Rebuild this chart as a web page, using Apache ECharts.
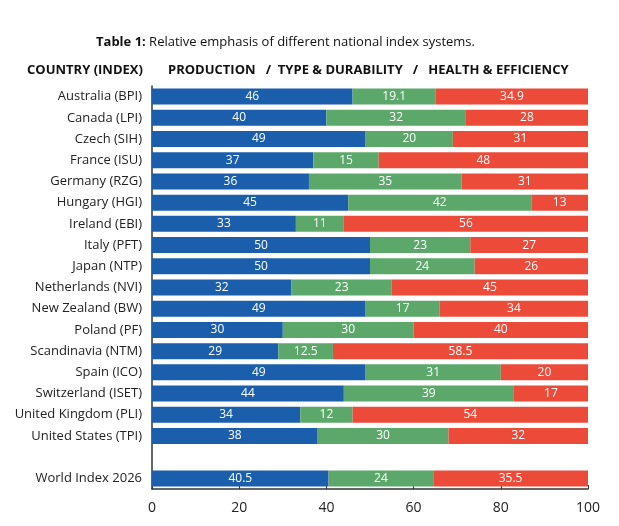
<!DOCTYPE html>
<html>
<head>
<meta charset="utf-8">
<script src="https://cdn.jsdelivr.net/npm/echarts@6/dist/echarts.min.js"></script>
<style>html,body{margin:0;background:#fff}#c{width:619px;height:526px}</style>
</head>
<body>
<div id="c"></div>
<script>
const countries = ['Australia (BPI)', 'Canada (LPI)', 'Czech (SIH)', 'France (ISU)', 'Germany (RZG)', 'Hungary (HGI)', 'Ireland (EBI)', 'Italy (PFT)', 'Japan (NTP)', 'Netherlands (NVI)', 'New Zealand (BW)', 'Poland (PF)', 'Scandinavia (NTM)', 'Spain (ICO)', 'Switzerland (ISET)', 'United Kingdom (PLI)', 'United States (TPI)', '', 'World Index 2026'];
const production = [46, 40, 49, 37, 36, 45, 33, 50, 50, 32, 49, 30, 29, 49, 44, 34, 38, null, 40.5];
const typeDurability = [19.1, 32, 20, 15, 35, 42, 11, 23, 24, 23, 17, 30, 12.5, 31, 39, 12, 30, null, 24];
const healthEfficiency = [34.9, 28, 31, 48, 31, 13, 56, 27, 26, 45, 34, 40, 58.5, 20, 17, 54, 32, null, 35.5];
const xTicks = [0, 20, 40, 60, 80, 100];

const chart = echarts.init(document.getElementById('c'));
const font = '"Open Sans", "Noto Sans", sans-serif';
function seg(name, data, color) {
    return {
        name: name, type: 'bar', stack: 'all', data: data, barWidth: 16,
        itemStyle: { color: color },
        label: { show: true, position: 'inside', color: '#fff', fontSize: 12, fontFamily: font }
    };
}
chart.setOption({
    animation: false,
    grid: { left: 152, right: 31, top: 86, bottom: 37 },
    graphic: [
        { type: 'text', left: 96, top: 36, style: { rich: { b: { fontWeight: 'bold', fontSize: 13, fontFamily: font, fill: '#111' }, n: { fontSize: 13, fontFamily: font, fill: '#111' } }, text: '{b|Table 1:} {n|Relative emphasis of different national index systems.}' } },
        { type: 'text', left: 27, top: 64, style: { text: 'COUNTRY (INDEX)', fontWeight: 'bold', fontSize: 13, fontFamily: font, fill: '#111' } },
        { type: 'text', left: 168, top: 64, style: { text: 'PRODUCTION   /  TYPE & DURABILITY   /   HEALTH & EFFICIENCY', fontWeight: 'bold', fontSize: 13, fontFamily: font, fill: '#111' } }
    ],
    xAxis: {
        type: 'value', min: 0, max: 100, interval: 20,
        axisLine: { show: true, lineStyle: { color: '#333', width: 1.5 } },
        axisTick: { show: true, inside: true, length: 4, lineStyle: { color: '#333' } },
        splitLine: { show: false },
        axisLabel: { margin: 12, fontSize: 14, color: '#222', fontFamily: font,
            formatter: v => xTicks.includes(v) ? String(v) : '' }
    },
    yAxis: {
        type: 'category', data: countries, inverse: true,
        axisLine: { show: true, lineStyle: { color: '#333', width: 1.5 } },
        axisTick: { show: false },
        axisLabel: { fontSize: 13, color: '#222', fontFamily: font, margin: 10 }
    },
    series: [
        seg('Production', production, '#1b5fac'),
        seg('Type & Durability', typeDurability, '#5ba86a'),
        seg('Health & Efficiency', healthEfficiency, '#ec4b3a')
    ]
});
</script>
</body>
</html>
